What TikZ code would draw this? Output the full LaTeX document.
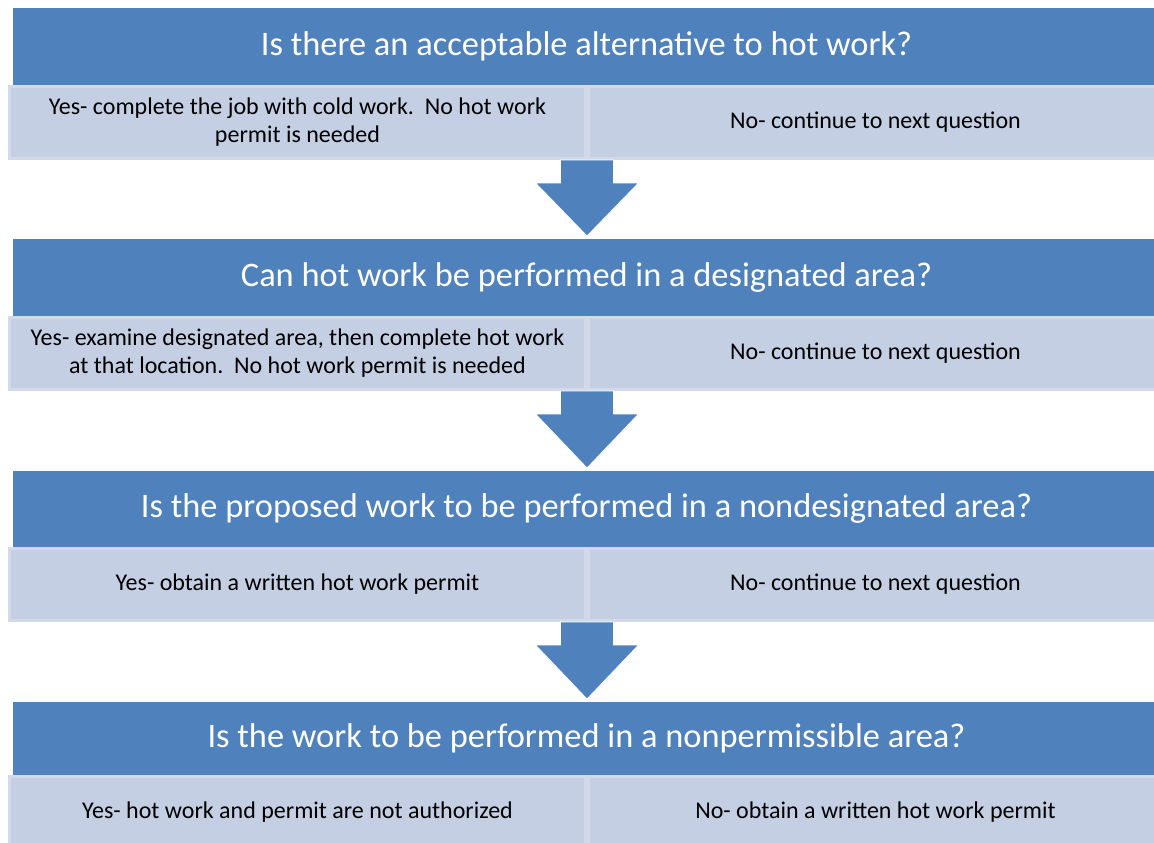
\documentclass[tikz,border=0pt]{standalone}
\usepackage{fontspec}
\setmainfont{Carlito}
\usetikzlibrary{calc}
\definecolor{hdrblue}{HTML}{4F81BD}
\definecolor{subfill}{HTML}{C4CFE3}
\definecolor{subedge}{HTML}{D2DAE9}
\begin{document}
\begin{tikzpicture}[x=1pt,y=-1pt,
  hdr/.style={fill=hdrblue, text=white, font=\fontsize{34.4}{40}\selectfont,
    minimum width=1147pt, inner sep=0pt, outer sep=0pt, anchor=north west},
  subbox/.style={fill=subfill, draw=subedge, line width=3pt, text=black,
    font=\fontsize{24}{28}\selectfont, align=center, inner sep=0pt, outer sep=0pt,
    minimum height=72pt, anchor=north west},
  subleft/.style={subbox, minimum width=576pt},
  subright/.style={subbox, minimum width=574pt},
  blockarrow/.style={fill=hdrblue, draw=white, line width=0.8pt}]
\clip (0,0) rectangle (1154,843);
\fill[white] (0,0) rectangle (1154,843);

% sub boxes
\node[subleft]  (s1l) at (9.5,86.5)  {Yes- complete the job with cold work.\ \ No hot work\\permit is needed};
\node[subright] (s1r) at (588.5,86.5) {No- continue to next question};
\node[subleft]  (s2l) at (9.5,317.5) {Yes- examine designated area, then complete hot work\\at that location.\ \ No hot work permit is needed};
\node[subright] (s2r) at (588.5,317.5) {No- continue to next question};
\node[subleft]  (s3l) at (9.5,548.5) {Yes- obtain a written hot work permit};
\node[subright] (s3r) at (588.5,548.5) {No- continue to next question};
\node[subleft]  (s4l) at (9.5,776.5) {Yes- hot work and permit are not authorized};
\node[subright] (s4r) at (588.5,776.5) {No- obtain a written hot work permit};

% headers
\node[hdr, minimum height=77pt] (h1) at (13,8)   {Is there an acceptable alternative to hot work?};
\node[hdr, minimum height=77pt] (h2) at (13,239) {Can hot work be performed in a designated area?};
\node[hdr, minimum height=76pt] (h3) at (13,471) {Is the proposed work to be performed in a nondesignated area?};
\node[hdr, minimum height=73pt] (h4) at (13,702) {Is the work to be performed in a nonpermissible area?};

% block arrows
\foreach \a/\b/\c in {s1l/s1r/h2, s2l/s2r/h3, s3l/s3r/h4}{
  \coordinate (at) at ($(\a.south east)!0.5!(\b.south west)+(0,1.5)$);
  \coordinate (tip) at ($(at |- \c.north)+(0,-3)$);
  \filldraw[blockarrow] ($(at)+(-26.5,0)$) -- ($(at)+(26.5,0)$) -- ($(at)+(26.5,23)$)
    -- ($(at)+(51.5,23)$) -- (tip) -- ($(at)+(-51.5,23)$) -- ($(at)+(-26.5,23)$) -- cycle;
}
\end{tikzpicture}
\end{document}
